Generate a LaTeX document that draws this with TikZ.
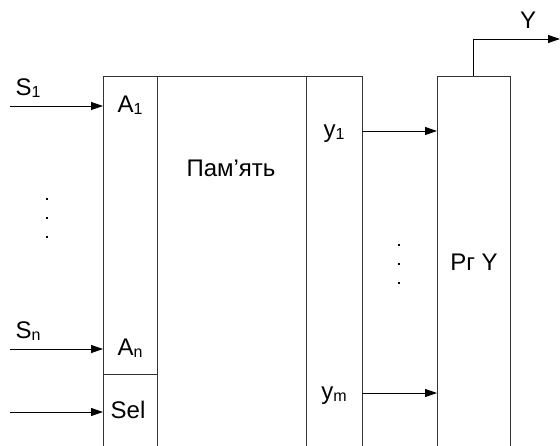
\documentclass[tikz,border=0pt]{standalone}
\usepackage{fontspec}
\setmainfont{Liberation Sans}
\usetikzlibrary{arrows.meta}
\newcommand\lidx[1]{\raisebox{-2.5pt}{\fontsize{16}{16}\selectfont #1}}
\tikzset{
  blk/.style={draw=black!80, line width=0.9pt, rectangle, inner sep=0pt, outer sep=0pt},
  sig/.style={draw=black, line width=0.9pt, -{Triangle[length=12pt,width=8pt]}},
  lbl/.style={anchor=base, inner sep=0pt, font=\fontsize{24}{28}\selectfont},
  dot/.style={rectangle, fill=black, inner sep=0pt, minimum size=2.2pt}
}
\begin{document}
\begin{tikzpicture}[x=1pt,y=-1pt]
\useasboundingbox (0,0) rectangle (560,445);
% blocks (extend below the page edge)
\node[blk, minimum width=54pt, minimum height=390pt, anchor=north west] (colA) at (103,76) {};
\node[blk, minimum width=149pt, minimum height=390pt, anchor=north west] (mem) at (157,76) {};
\node[blk, minimum width=56pt, minimum height=390pt, anchor=north west] (colY) at (306,76) {};
\node[blk, minimum width=73pt, minimum height=390pt, anchor=north west] (rg) at (437,76) {};
\coordinate (divL) at (103,374);
\draw[draw=black!80, line width=0.9pt] (divL) -- (divL -| colA.east);
% inputs
\coordinate (s1) at (10,106);
\coordinate (sn) at (10,349);
\coordinate (sel) at (10,412);
\draw[sig] (s1) -- (s1 -| colA.west);
\draw[sig] (sn) -- (sn -| colA.west);
\draw[sig] (sel) -- (sel -| colA.west);
% outputs to register
\coordinate (y1) at (362,131);
\coordinate (ym) at (362,393);
\draw[sig] (y1) -- (y1 -| rg.west);
\draw[sig] (ym) -- (ym -| rg.west);
% register output
\coordinate (yo) at (473,76);
\coordinate (yend) at (560,39);
\draw[sig] (yo) |- (yend);
% labels
\node[lbl] (tS1) at (28,95) {S\lidx{1}};
\node[lbl] (tSn) at (28,338) {S\lidx{n}};
\node[lbl] (tA1) at (130,112) {A\lidx{1}};
\node[lbl] (tAn) at (130,355) {A\lidx{n}};
\node[lbl] (tSel) at (128,418) {Sel};
\node[lbl] (tMem) at (231,176) {Пам’ять};
\node[lbl] (ty1) at (334,137) {y\lidx{1}};
\node[lbl] (tym) at (334,399) {y\lidx{m}};
\node[lbl] (tRg) at (474,270) {Рг Y};
\node[lbl] (tY) at (528,28) {Y};
% dots
\node[dot] (d1) at (47,199) {};
\node[dot] (d2) at (47,218) {};
\node[dot] (d3) at (47,237) {};
\node[dot] (d4) at (399,245) {};
\node[dot] (d5) at (399,264) {};
\node[dot] (d6) at (399,283) {};
\end{tikzpicture}
\end{document}
